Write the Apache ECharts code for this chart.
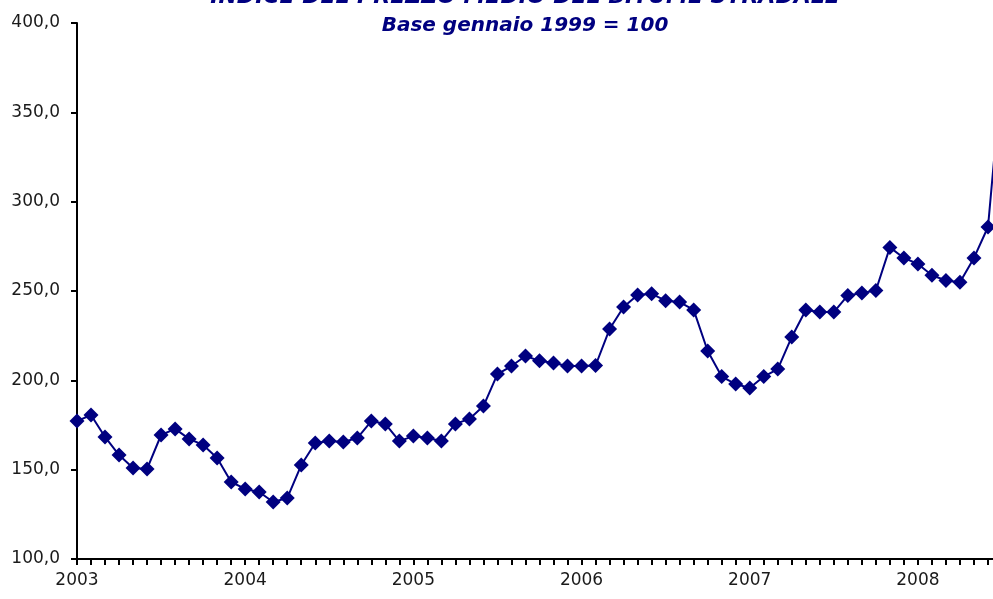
<!DOCTYPE html>
<html>
<head>
<meta charset="utf-8">
<script src="https://cdn.jsdelivr.net/npm/echarts@6/dist/echarts.min.js"></script>
<style>
    html, body { margin: 0; padding: 0; background: #fff; }
    #chart { width: 993px; height: 599px; }
</style>
</head>
<body>
<div id="chart"></div>
<script>
// anni sull'asse x (un'etichetta ogni gennaio)
var years = ['2003', '2004', '2005', '2006', '2007', '2008'];
var monthsIn2008 = 7;

// indice mensile, gen 2003 - lug 2008
var indexValues = [
    177.2, 180.6, 168.3, 158.2, 150.9, 150.4, 169.4, 172.8, 167.2, 163.8, 156.5, 143.1,
    139.2, 137.5, 131.9, 134.1, 152.6, 164.9, 166.0, 165.5, 167.7, 177.2, 175.6, 166.0,
    168.8, 167.7, 166.0, 175.6, 178.4, 185.6, 203.5, 208.0, 213.6, 210.9, 209.7, 208.0,
    208.0, 208.3, 228.7, 241.0, 247.8, 248.4, 244.6, 243.8, 239.4, 216.4, 202.1, 197.9,
    195.7, 202.1, 206.3, 224.3, 239.4, 238.2, 238.2, 247.5, 248.9, 250.3, 274.4, 268.5,
    265.1, 258.8, 255.9, 254.9, 268.5, 285.8, 373.0
];

var categories = [];
for (var y = 0; y < years.length; y++) {
    var n = (y == years.length - 1) ? monthsIn2008 : 12;
    for (var m = 1; m <= n; m++) {
        categories.push(years[y] + '-' + (m < 10 ? '0' + m : m));
    }
}

var myChart = echarts.init(document.getElementById('chart'));
var option = {
    animation: false,
    backgroundColor: '#fff',
    title: [
        {
            text: 'INDICE DEL PREZZO MEDIO DEL BITUME STRADALE',
            left: 520,
            top: -19,
            textAlign: 'center',
            textStyle: {
                fontFamily: 'DejaVu Sans',
                fontSize: 22,
                fontWeight: 'bold',
                fontStyle: 'italic',
                color: '#000080'
            }
        },
        {
            text: 'Base gennaio 1999 = 100',
            left: 520,
            top: 11,
            textAlign: 'center',
            textStyle: {
                fontFamily: 'DejaVu Sans',
                fontSize: 20,
                fontWeight: 'bold',
                fontStyle: 'italic',
                color: '#000080'
            }
        }
    ],
    // la griglia prosegue oltre il bordo destro: l'ultimo mese resta fuori
    grid: {
        left: 77,
        top: 23,
        height: 536,
        width: 925,
        outerBoundsMode: 'none'
    },
    xAxis: {
        type: 'category',
        data: categories,
        boundaryGap: false,
        axisLine: { lineStyle: { color: '#000', width: 2 } },
        axisTick: {
            show: true,
            interval: 0,
            length: 6,
            lineStyle: { color: '#000', width: 2 }
        },
        axisLabel: {
            interval: function (i) { return i % 12 === 0; },
            formatter: function (v) { return v.slice(0, 4); },
            margin: 13,
            fontFamily: 'DejaVu Sans',
            fontSize: 17,
            color: '#1a1a1a'
        },
        splitLine: { show: false }
    },
    yAxis: {
        type: 'value',
        min: 100,
        max: 400,
        interval: 50,
        axisLine: { show: true, lineStyle: { color: '#000', width: 2 } },
        axisTick: { show: true, length: 6, lineStyle: { color: '#000', width: 2 } },
        axisLabel: {
            margin: 17,
            fontFamily: 'DejaVu Sans',
            fontSize: 17,
            color: '#1a1a1a',
            formatter: function (v) { return v.toFixed(1).replace('.', ','); }
        },
        splitLine: { show: false }
    },
    series: [
        {
            name: 'Indice',
            type: 'line',
            data: indexValues,
            symbol: 'diamond',
            symbolSize: 15,
            showAllSymbol: true,
            clip: false,
            lineStyle: { color: '#000080', width: 2 },
            itemStyle: { color: '#000080' }
        }
    ]
};

myChart.setOption(option);
</script>
</body>
</html>
